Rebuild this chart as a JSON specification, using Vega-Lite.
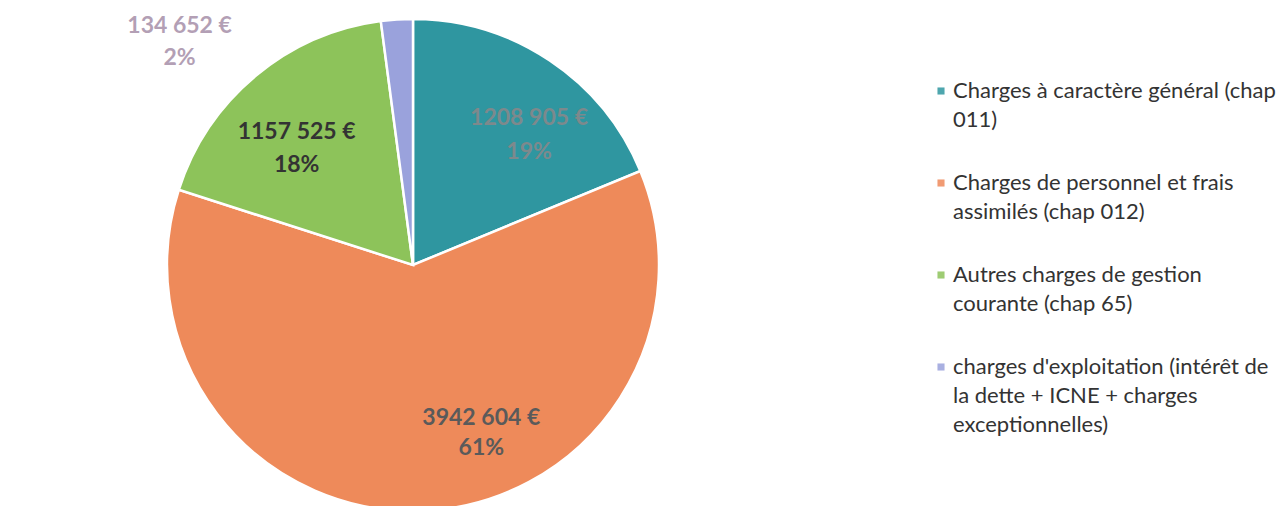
{
  "$schema": "https://vega.github.io/schema/vega-lite/v6.json",
  "width": 826,
  "height": 530,
  "autosize": "none",
  "padding": {"left": 0, "top": 0, "right": 456, "bottom": 0},
  "background": "white",
  "config": {
    "view": {"stroke": null},
    "font": "Lato",
    "style": {"guide-label": {"lineHeight": 29}}
  },
  "data": {
    "values": [
      {"cat": "Charges à caractère général  (chap|011)", "value": 1208905, "ord": 1, "txt": "1208 905 €\n19%"},
      {"cat": "Charges de personnel et frais|assimilés  (chap 012)", "value": 3942604, "ord": 2, "txt": "3942 604 €\n61%"},
      {"cat": "Autres charges de gestion|courante (chap 65)", "value": 1157525, "ord": 3, "txt": "1157 525 €\n18%"},
      {"cat": "charges d'exploitation (intérêt de|la dette + ICNE + charges|exceptionnelles)", "value": 134652, "ord": 4, "txt": "134 652 €\n2%"}
    ]
  },
  "encoding": {
    "theta": {"field": "value", "type": "quantitative", "stack": true},
    "order": {"field": "ord", "type": "quantitative"}
  },
  "layer": [
    {
      "mark": {"type": "arc", "outerRadius": 246, "stroke": "white", "strokeWidth": 2.5},
      "encoding": {
        "color": {
          "field": "cat", "type": "nominal",
          "sort": {"field": "ord"},
          "scale": {
            "domain": [
              "Charges à caractère général  (chap|011)",
              "Charges de personnel et frais|assimilés  (chap 012)",
              "Autres charges de gestion|courante (chap 65)",
              "charges d'exploitation (intérêt de|la dette + ICNE + charges|exceptionnelles)"
            ],
            "range": ["#2f96a0", "#ee8a5a", "#8dc35a", "#9aa2dc"]
          },
          "legend": {
            "title": null,
            "orient": "none",
            "legendX": 930,
            "legendY": 80,
            "symbolType": "square",
            "symbolSize": 50,
            "symbolStrokeWidth": 0,
            "symbolOpacity": 0.85,
            "labelExpr": "split(datum.label, '|')",
            "labelFont": "Lato",
            "labelFontSize": 22,
            "labelColor": "#333333",
            "labelLimit": 0,
            "labelBaseline": "middle",
            "labelOffset": 1,
            "rowPadding": 41
          }
        }
      }
    },
    {
      "mark": {"type": "text", "radius": 180, "dx": 16, "dy": 3, "font": "Lato", "fontSize": 23, "fontWeight": "bold", "lineBreak": "\n", "lineHeight": 34, "color": "#7d898c"},
      "encoding": {
        "text": {"condition": {"test": "datum.ord == 1", "field": "txt"}, "value": ""}
      }
    },
    {
      "mark": {"type": "text", "radius": 180, "dx": 61, "dy": -27, "font": "Lato", "fontSize": 23, "fontWeight": "bold", "lineBreak": "\n", "lineHeight": 30, "color": "#5a5a5a"},
      "encoding": {
        "text": {"condition": {"test": "datum.ord == 2", "field": "txt"}, "value": ""}
      }
    },
    {
      "mark": {"type": "text", "radius": 180, "dx": -1, "dy": 5, "font": "Lato", "fontSize": 23, "fontWeight": "bold", "lineBreak": "\n", "lineHeight": 33, "color": "#333333"},
      "encoding": {
        "text": {"condition": {"test": "datum.ord == 3", "field": "txt"}, "value": ""}
      }
    },
    {
      "mark": {"type": "text", "radius": 250, "dx": -217, "dy": 10, "font": "Lato", "fontSize": 23, "fontWeight": "bold", "lineBreak": "\n", "lineHeight": 32, "color": "#b39fb5"},
      "encoding": {
        "text": {"condition": {"test": "datum.ord == 4", "field": "txt"}, "value": ""}
      }
    }
  ]
}
